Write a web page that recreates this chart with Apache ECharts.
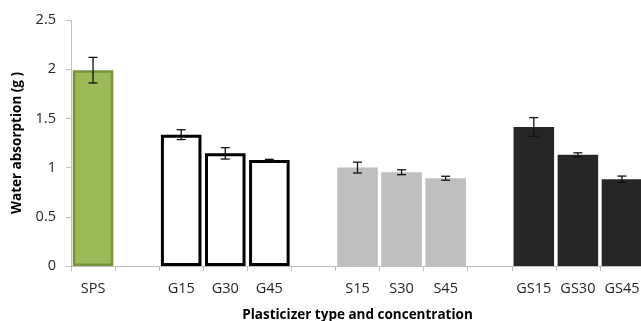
<!DOCTYPE html>
<html>
<head>
<meta charset="utf-8">
<script src="https://cdn.jsdelivr.net/npm/echarts@6/dist/echarts.min.js"></script>
<style>
  html, body { margin: 0; padding: 0; background: #fff; }
  #chart { width: 641px; height: 321px; }
</style>
</head>
<body>
<div id="chart"></div>
<script>
// categories ('' = gap between groups)
var categories = ['SPS', '', 'G15', 'G30', 'G45', '', 'S15', 'S30', 'S45', '', 'GS15', 'GS30', 'GS45'];
var absorption = [1.99, null, 1.335, 1.145, 1.076, null, 1.0, 0.953, 0.892, null, 1.413, 1.13, 0.882];
var errors = [0.13, null, 0.05, 0.058, 0.008, null, 0.055, 0.025, 0.02, null, 0.095, 0.02, 0.032];
var groupOf = ['SPS', '', 'G', 'G', 'G', '', 'S', 'S', 'S', '', 'GS', 'GS', 'GS'];

var styles = {
  SPS: { color: '#9BBB59', borderColor: '#77933C', borderWidth: 2.5 },
  G: { color: '#ffffff', borderColor: '#000000', borderWidth: 3 },
  S: { color: '#BFBFBF', borderWidth: 0 },
  GS: { color: '#262626', borderWidth: 0 }
};

var font = '"Open Sans", Lato, sans-serif';

var barData = absorption.map(function (v, i) {
  if (v == null) return null;
  return { value: v, itemStyle: styles[groupOf[i]] };
});

var errData = [];
absorption.forEach(function (v, i) {
  if (v == null) return;
  errData.push([i, v - errors[i], v + errors[i]]);
});

var chart = echarts.init(document.getElementById('chart'));
chart.setOption({
  animation: false,
  grid: { left: 71, right: -3, top: 20, bottom: 55, outerBoundsMode: 'none', containLabel: false },
  xAxis: {
    type: 'category',
    data: categories,
    name: 'Plasticizer type and concentration',
    nameLocation: 'middle',
    nameGap: 42,
    nameTextStyle: { fontFamily: font, fontSize: 13.5, fontWeight: 'bold', color: '#000' },
    axisLine: { lineStyle: { color: '#BFBFBF', width: 1 } },
    axisTick: { show: true, length: 5, interval: 0, lineStyle: { color: '#BFBFBF' } },
    axisLabel: { interval: 0, margin: 15, fontFamily: font, fontSize: 14.5, color: '#262626' }
  },
  yAxis: {
    type: 'value',
    min: 0,
    max: 2.5,
    interval: 0.5,
    name: 'Water absorption (g )',
    nameLocation: 'middle',
    nameGap: 47,
    nameTextStyle: { fontFamily: font, fontSize: 13.5, fontWeight: 'bold', color: '#000' },
    axisLine: { show: true, lineStyle: { color: '#BFBFBF', width: 1 } },
    axisTick: { show: true, length: 5, lineStyle: { color: '#BFBFBF' } },
    axisLabel: { margin: 15, fontFamily: font, fontSize: 14.5, color: '#262626' },
    splitLine: { show: false }
  },
  series: [
    {
      type: 'bar',
      data: barData,
      barCategoryGap: '8%'
    },
    {
      type: 'custom',
      data: errData,
      z: 10,
      renderItem: function (params, api) {
        var x = api.value(0);
        var lo = api.coord([x, api.value(1)]);
        var hi = api.coord([x, api.value(2)]);
        var cap = 4.5;
        var st = { stroke: '#111', lineWidth: 1.3 };
        return {
          type: 'group',
          children: [
            { type: 'line', shape: { x1: hi[0], y1: hi[1], x2: lo[0], y2: lo[1] }, style: st },
            { type: 'line', shape: { x1: hi[0] - cap, y1: hi[1], x2: hi[0] + cap, y2: hi[1] }, style: st },
            { type: 'line', shape: { x1: lo[0] - cap, y1: lo[1], x2: lo[0] + cap, y2: lo[1] }, style: st }
          ]
        };
      }
    }
  ]
});
</script>
</body>
</html>
